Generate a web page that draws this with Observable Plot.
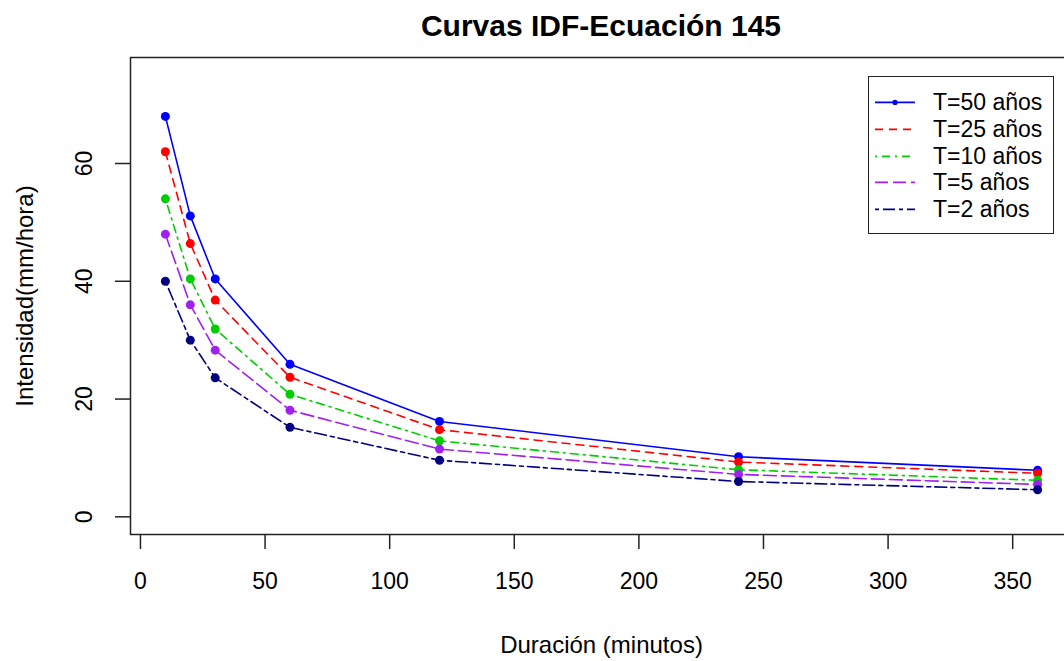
<!DOCTYPE html>
<html>
<head>
<meta charset="utf-8">
<script src="https://cdn.jsdelivr.net/npm/d3@7"></script>
<script src="https://cdn.jsdelivr.net/npm/@observablehq/plot@0.6"></script>
<style>
  html, body { margin: 0; padding: 0; background: white; overflow: hidden; width: 1064px; height: 661px; }
  #wrap { position: relative; width: 1072px; height: 661px; font-family: "Liberation Sans", Arial, sans-serif; }
  #title { position: absolute; left: 130px; top: 0; width: 942px; height: 50px; line-height: 51px; text-align: center; font-size: 30px; font-weight: bold; color: #000; }
  #chart { position: absolute; left: 0; top: 50px; }
  #legend { position: absolute; left: 868px; top: 76px; width: 186px; height: 158px; box-sizing: border-box; border: 1.5px solid #222; background: white; padding-top: 12px; }
  .row { position: relative; height: 26.8px; }
  .row svg { position: absolute; left: 4px; top: 0; }
  .row span { position: absolute; left: 64px; top: 0; line-height: 26.8px; font-size: 23px; color: #000; white-space: nowrap; }
</style>
</head>
<body>
<div id="wrap">
  <div id="title"></div>
  <div id="chart"></div>
  <div id="legend"></div>
</div>
<script>
// ---- Data ----
const duracion = [10, 20, 30, 60, 120, 240, 360];
const T50 = [68.0, 51.1, 40.4, 25.9, 16.2, 10.2, 7.9];
const T25 = [62.0, 46.4, 36.8, 23.7, 14.8, 9.3, 7.4];
const T10 = [54.0, 40.4, 31.9, 20.8, 12.9, 8.0, 6.2];
const T5  = [48.0, 36.0, 28.3, 18.1, 11.5, 7.2, 5.5];
const T2  = [40.0, 30.0, 23.6, 15.2, 9.6, 6.0, 4.6];
const seriesNames = ["T=50 años", "T=25 años", "T=10 años", "T=5 años", "T=2 años"];
const xTicks = [0, 50, 100, 150, 200, 250, 300, 350];
const yTicks = [0, 20, 40, 60];
const titleText = "Curvas IDF-Ecuación 145";
const xLabel = "Duración (minutos)";
const yLabel = "Intensidad(mm/hora)";

// ---- Styles ----
const colors = ["#0000FF", "#FF0000", "#00CD00", "#A020F0", "#000080"];
const dashes = [null, "8,6", "2,5,8,5", "13,5", "4,4,12,4"];

const values = [T50, T25, T10, T5, T2];
const rows = [];
values.forEach((vals, s) => vals.forEach((v, i) => rows.push({serie: seriesNames[s], s, x: duracion[i], y: v})));

document.getElementById("title").textContent = titleText;

const lineMarks = [];
seriesNames.forEach((name, s) => {
  const data = rows.filter(d => d.s === s);
  lineMarks.push(Plot.line(data, {x: "x", y: "y", stroke: colors[s], strokeWidth: 1.6, strokeDasharray: dashes[s]}));
  lineMarks.push(Plot.dot(data, {x: "x", y: "y", r: 4.5, fill: colors[s], stroke: "none"}));
});

const plot = Plot.plot({
  width: 1072,
  height: 611,
  marginTop: 7,
  marginLeft: 130,
  marginRight: 0,
  marginBottom: 127,
  x: {domain: [-4, 374]},
  y: {domain: [-3, 78]},
  style: {fontFamily: "Liberation Sans, Arial, sans-serif", maxWidth: "none", background: "white", color: "#000"},
  marks: [
    Plot.axisX({ticks: xTicks, tickSize: 15, tickPadding: 23, fontSize: 23, label: null, stroke: "#222", strokeWidth: 1.5}),
    Plot.axisY({ticks: yTicks, tickSize: 15, tickFormat: () => "", label: null, stroke: "#222", strokeWidth: 1.5}),
    Plot.axisY({ticks: yTicks, tickSize: 0, tickPadding: 46, fontSize: 23, label: null, rotate: -90, textAnchor: "middle"}),
    ...lineMarks,
    Plot.frame({stroke: "#222", strokeWidth: 1.5}),
    Plot.text([xLabel], {text: d => d, frameAnchor: "bottom", dy: 111, fontSize: 24, textAnchor: "middle", lineAnchor: "middle"}),
    Plot.text([yLabel], {text: d => d, frameAnchor: "left", dx: -105, rotate: -90, fontSize: 24, textAnchor: "middle", lineAnchor: "middle"})
  ]
});
document.getElementById("chart").appendChild(plot);

// ---- Legend ----
const legend = document.getElementById("legend");
seriesNames.forEach((name, s) => {
  const row = document.createElement("div");
  row.className = "row";
  const dash = dashes[s] ? ` stroke-dasharray="${dashes[s]}"` : "";
  const dot = s === 0 ? `<circle cx="22" cy="13.4" r="2.6" fill="${colors[s]}"/>` : "";
  row.innerHTML = `<svg width="44" height="27"><line x1="2" x2="42" y1="13.4" y2="13.4" stroke="${colors[s]}" stroke-width="1.8"${dash}/>${dot}</svg><span>${name}</span>`;
  legend.appendChild(row);
});
</script>
</body>
</html>
